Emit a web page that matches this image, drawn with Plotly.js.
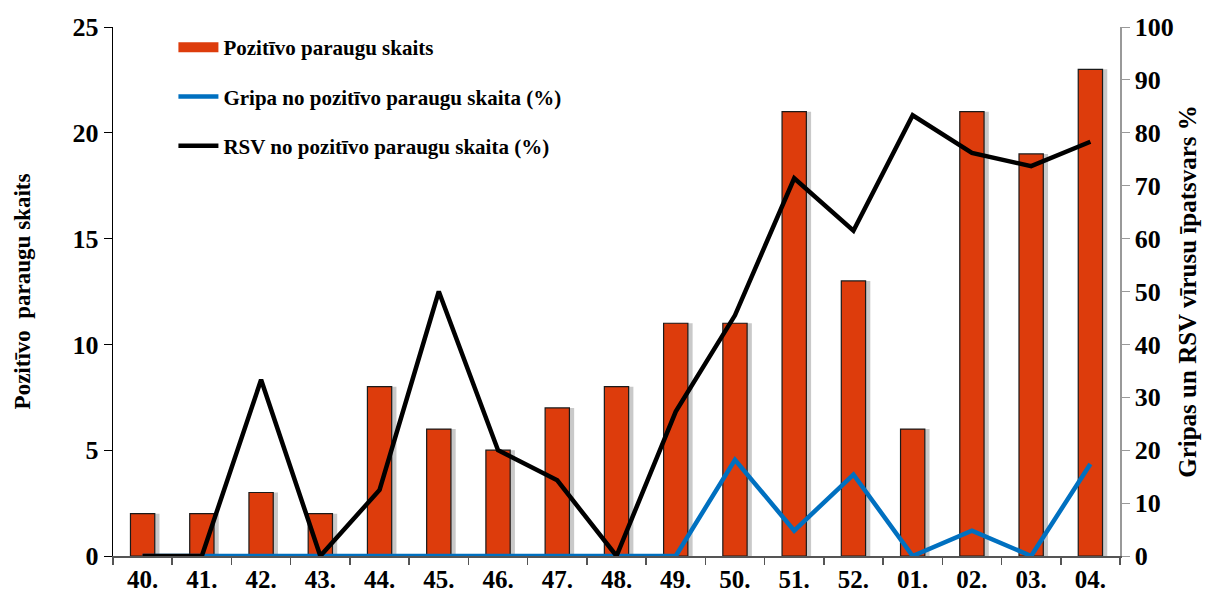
<!DOCTYPE html>
<html><head><meta charset="utf-8">
<script src="https://cdn.plot.ly/plotly-3.0.1.min.js"></script>
<style>html,body{margin:0;padding:0;background:#fff}#c{width:1218px;height:595px}</style>
</head><body><div id="c"></div>
<script>
const weeks = ['40.','41.','42.','43.','44.','45.','46.','47.','48.','49.','50.','51.','52.','01.','02.','03.','04.'];
const positiveCount = [2,2,3,2,8,6,5,7,8,11,11,21,13,6,21,19,23];
const fluPct = [0,0,0,0,0,0,0,0,0,0,18.2,4.8,15.4,0,4.8,0,17.4];
const rsvPct = [0,0,33.3,0,12.5,50,20,14.3,0,27.3,45.5,71.4,61.5,83.3,76.2,73.7,78.3];

const F = 'Liberation Serif, Times New Roman, serif';
const bw = 0.41;
const traces = [
  {type:'bar', x:weeks, y:positiveCount, width:bw, offset:-bw/2+0.08, marker:{color:'rgba(90,90,90,0.33)', line:{width:0}}, showlegend:false, hoverinfo:'skip'},
  {type:'bar', name:'Pozitīvo paraugu skaits', x:weeks, y:positiveCount, width:bw, offset:-bw/2, marker:{color:'#DD3C0C', line:{color:'#1a1a1a', width:1.2}}, showlegend:false},
  {type:'scatter', mode:'lines', name:'Pozitīvo paraugu skaits', x:[null], y:[null], line:{color:'#DD3C0C', width:12}, legendgroup:'a'},
  {type:'scatter', mode:'lines', name:'Gripa no pozitīvo paraugu skaita (%)', x:weeks, y:fluPct, yaxis:'y2', line:{color:'#0070C0', width:4.5}, legendgroup:'b'},
  {type:'scatter', mode:'lines', name:'RSV no pozitīvo paraugu skaita (%)', x:weeks, y:rsvPct, yaxis:'y2', line:{color:'#000000', width:4.5}, legendgroup:'c'}
];
const layout = {
  width:1218, height:595,
  margin:{l:113, r:98, t:27, b:39},
  paper_bgcolor:'#fff', plot_bgcolor:'#fff',
  barmode:'overlay',
  font:{family:F, color:'#000'},
  showlegend:true,
  legend:{x:0.06, y:1.0, xanchor:'left', yanchor:'top', bgcolor:'rgba(0,0,0,0)', font:{family:F, size:21, color:'#000', weight:'bold'}, tracegroupgap:19, traceorder:'grouped', itemwidth:40},
  xaxis:{type:'category', range:[-0.5,16.5], showgrid:false, showline:true, linecolor:'#555', linewidth:1.5, ticks:'outside', tickson:'boundaries', ticklen:7, tickcolor:'#555', tickwidth:1.5, tickfont:{family:F, size:25, weight:'bold'}, zeroline:false},
  yaxis:{range:[0,25], dtick:5, showgrid:false, zeroline:false, showline:true, linecolor:'#000', linewidth:1.2, ticks:'outside', ticklen:8, tickcolor:'#000', tickfont:{family:F, size:26, weight:'bold'}, title:{text:'Pozitīvo\u00a0 paraugu skaits', font:{family:F, size:23, weight:'bold'}, standoff:35}},
  yaxis2:{overlaying:'y', side:'right', range:[0,100], dtick:10, showgrid:false, zeroline:false, showline:true, linecolor:'#999', linewidth:1.5, ticks:'outside', ticklen:8, tickcolor:'#999', tickfont:{family:F, size:26, weight:'bold'}, title:{text:'Gripas un RSV vīrusu īpatsvars %', font:{family:F, size:25, weight:'bold'}, standoff:6}}
};
Plotly.newPlot('c', traces, layout, {displayModeBar:false, staticPlot:true});
</script></body></html>
